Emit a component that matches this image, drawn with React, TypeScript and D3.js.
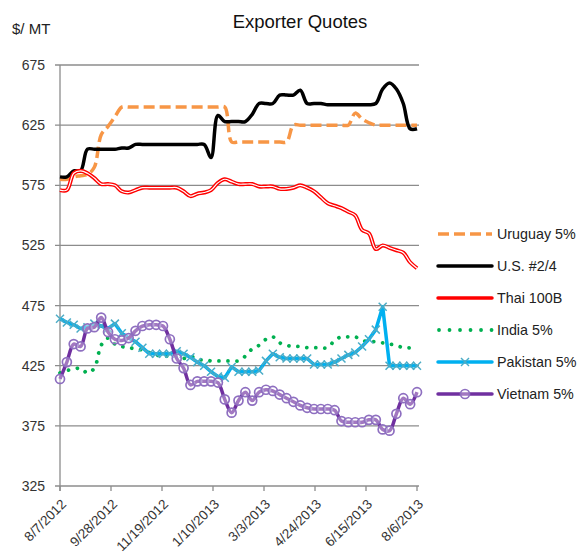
import React from 'react';
import * as d3 from 'd3';

const dates = [
  '2012-08-07','2012-08-14','2012-08-21','2012-08-28','2012-09-04','2012-09-11','2012-09-18','2012-09-25',
  '2012-10-02','2012-10-09','2012-10-16','2012-10-23','2012-10-30','2012-11-06','2012-11-13','2012-11-20',
  '2012-11-27','2012-12-04','2012-12-11','2012-12-18','2012-12-25','2013-01-01','2013-01-08','2013-01-15',
  '2013-01-22','2013-01-29','2013-02-05','2013-02-12','2013-02-19','2013-02-26','2013-03-05','2013-03-12',
  '2013-03-19','2013-03-26','2013-04-02','2013-04-09','2013-04-16','2013-04-23','2013-04-30','2013-05-07',
  '2013-05-14','2013-05-21','2013-05-28','2013-06-04','2013-06-11','2013-06-18','2013-06-25','2013-07-02',
  '2013-07-09','2013-07-16','2013-07-23','2013-07-30','2013-08-06'
];

const uruguay = [580,580,582,583,584,590,617,624,632,640,640,640,640,640,640,640,640,640,640,640,640,640,640,640,640,611,611,611,611,611,611,611,611,611,625,625,625,625,625,625,625,625,625,635,630,627,625,625,625,625,625,625,625];
const usa = [582,582,587,587,605,605,605,605,605,606,606,609,609,609,609,609,609,609,609,609,609,609,598,633,628,628,628,628,634,643,643,643,650,650,650,654,643,643,643,642,642,642,642,642,642,642,643,655,660,655,643,622,622];
const thai = [571,571,585,587,585,581,576,576,575,570,569,571,573,573,573,573,573,573,570,566,568,569,571,577,580,578,576,576,576,574,574,574,572,572,573,575,573,570,565,560,558,556,553,550,538,535,522,525,523,521,519,511,506];
const india = [419,421,422,423,419,423,442,448,443,441,440,439,438,436,434,433,433,433,431,433,430,430,429,429,429,429,429,433,439,442,447,449,444,442,441,441,440,440,440,440,446,449,449,449,446,445,445,444,443,442,440,440,442];
const pakistan = [464,461,459,456,457,460,458,456,460,452,448,445,440,435,435,435,435,437,435,432,428,425,420,416,415,424,420,420,420,421,429,435,432,431,431,431,431,426,426,426,428,431,434,436,441,447,455,474,425,425,425,425,425];
const vietnam = [414,428,443,441,456,457,465,453,447,446,448,454,458,459,459,458,447,431,423,409,412,412,412,411,397,386,396,403,396,403,405,404,401,398,395,392,390,389,389,389,388,379,378,378,378,380,380,372,371,385,398,393,403];

const seriesNames = ['Uruguay 5%', 'U.S. #2/4', 'Thai 100B', 'India 5%', 'Pakistan 5%', 'Vietnam 5%'];
const tickLabels = ['8/7/2012','9/28/2012','11/19/2012','1/10/2013','3/3/2013','4/24/2013','6/15/2013','8/6/2013'];
const yTicks = [325, 375, 425, 475, 525, 575, 625, 675];

const FONT = 'Liberation Sans, Arial, sans-serif';

export default function App() {
  const W = 580, H = 558;
  const left = 60, right = 417, top = 65, bottom = 486;
  const parseISO = d3.utcParse('%Y-%m-%d');
  const parseTick = d3.utcParse('%m/%d/%Y');
  const xDates = dates.map(d => parseISO(d) as Date);
  const x = d3.scaleUtc().domain([xDates[0], xDates[xDates.length - 1]]).range([left, right]);
  const y = d3.scaleLinear().domain([325, 675]).range([bottom, top]);

  const mk = (vals: number[], curve: any) =>
    d3.line<number>().x((_, i) => x(xDates[i])).y(v => y(v)).curve(curve)(vals) || '';

  const smooth = d3.curveCatmullRom.alpha(0.5);
  const pUru = mk(uruguay, smooth);
  const pUsa = mk(usa, smooth);
  const pThai = mk(thai, smooth);
  const pIndia = mk(india, smooth);
  const pPak = mk(pakistan, d3.curveLinear);
  const pViet = mk(vietnam, smooth);

  const legendY = [234, 266, 298, 330, 362, 394];
  const lx0 = 438, lx1 = 492, ltx = 497;

  const xMark = (cx: number, cy: number, k: string) => (
    <g key={k} stroke="#4BACC6" strokeWidth={1.5}>
      <line x1={cx - 4} y1={cy - 4} x2={cx + 4} y2={cy + 4} />
      <line x1={cx - 4} y1={cy + 4} x2={cx + 4} y2={cy - 4} />
    </g>
  );
  const cMark = (cx: number, cy: number, k: string) => (
    <circle key={k} cx={cx} cy={cy} r={4.5} fill="rgba(255,255,255,0.35)" stroke="#8E6FC0" strokeWidth={1.7} />
  );

  return (
    <svg width={W} height={H} style={{ position: 'absolute', left: 0, top: 0, background: '#fff' }} fontFamily={FONT}>
      <rect x={0} y={0} width={W} height={H} fill="#fff" />
      <text x={300} y={28} textAnchor="middle" fontSize={18.5} fill="#111">Exporter Quotes</text>
      <text x={12} y={34} fontSize={15} fill="#222">$/ MT</text>

      {yTicks.map(t => (
        <g key={t}>
          <line x1={55} x2={right + 2} y1={y(t)} y2={y(t)} stroke="#8c8c8c" strokeWidth={1.3} />
          <text x={45} y={y(t) + 5} textAnchor="end" fontSize={14} fill="#333">{t}</text>
        </g>
      ))}
      <line x1={left} x2={left} y1={top} y2={bottom + 5} stroke="#8c8c8c" strokeWidth={1.3} />
      {tickLabels.map(t => {
        const tx = x(parseTick(t) as Date);
        return (
          <g key={t}>
            <line x1={tx} x2={tx} y1={bottom} y2={bottom + 5} stroke="#8c8c8c" strokeWidth={1.3} />
            <text transform={`translate(${tx + 7},${505}) rotate(-45)`} textAnchor="end" fontSize={13.5} fill="#333">{t}</text>
          </g>
        );
      })}

      <g fill="none" strokeLinejoin="round">
        <path d={pUru} stroke="#F79646" strokeWidth={3.5} strokeDasharray="11 5" />
        <path d={pUsa} stroke="#000" strokeWidth={3.5} />
        <path d={pThai} stroke="#FF0000" strokeWidth={4} />
        <path d={pThai} stroke="#fff" strokeWidth={1.2} />
        <path d={pIndia} stroke="#00B050" strokeWidth={3.8} strokeDasharray="0.01 9" strokeLinecap="round" />
        <path d={pPak} stroke="#00B0F0" strokeWidth={3.5} />
        {pakistan.map((v, i) => xMark(x(xDates[i]), y(v), 'p' + i))}
        <path d={pViet} stroke="#7030A0" strokeWidth={3.5} />
        {vietnam.map((v, i) => cMark(x(xDates[i]), y(v), 'v' + i))}
      </g>

      <g fill="none">
        <line x1={lx0} x2={lx1} y1={legendY[0]} y2={legendY[0]} stroke="#F79646" strokeWidth={3.5} strokeDasharray="11 5" />
        <line x1={lx0} x2={lx1} y1={legendY[1]} y2={legendY[1]} stroke="#000" strokeWidth={3.5} strokeLinecap="round" />
        <line x1={lx0} x2={lx1} y1={legendY[2]} y2={legendY[2]} stroke="#FF0000" strokeWidth={3.5} strokeLinecap="round" />
        <line x1={lx0 + 1} x2={lx1} y1={legendY[3]} y2={legendY[3]} stroke="#00B050" strokeWidth={3.8} strokeDasharray="0.01 10.5" strokeLinecap="round" />
        <line x1={lx0} x2={lx1} y1={legendY[4]} y2={legendY[4]} stroke="#00B0F0" strokeWidth={3.5} strokeLinecap="round" />
        {xMark((lx0 + lx1) / 2, legendY[4], 'lp')}
        <line x1={lx0} x2={lx1} y1={legendY[5]} y2={legendY[5]} stroke="#7030A0" strokeWidth={3.5} strokeLinecap="round" />
        {cMark((lx0 + lx1) / 2, legendY[5], 'lv')}
      </g>
      {seriesNames.map((n, i) => (
        <text key={n} x={ltx} y={legendY[i] + 5} fontSize={14.3} fill="#222">{n}</text>
      ))}
    </svg>
  );
}
